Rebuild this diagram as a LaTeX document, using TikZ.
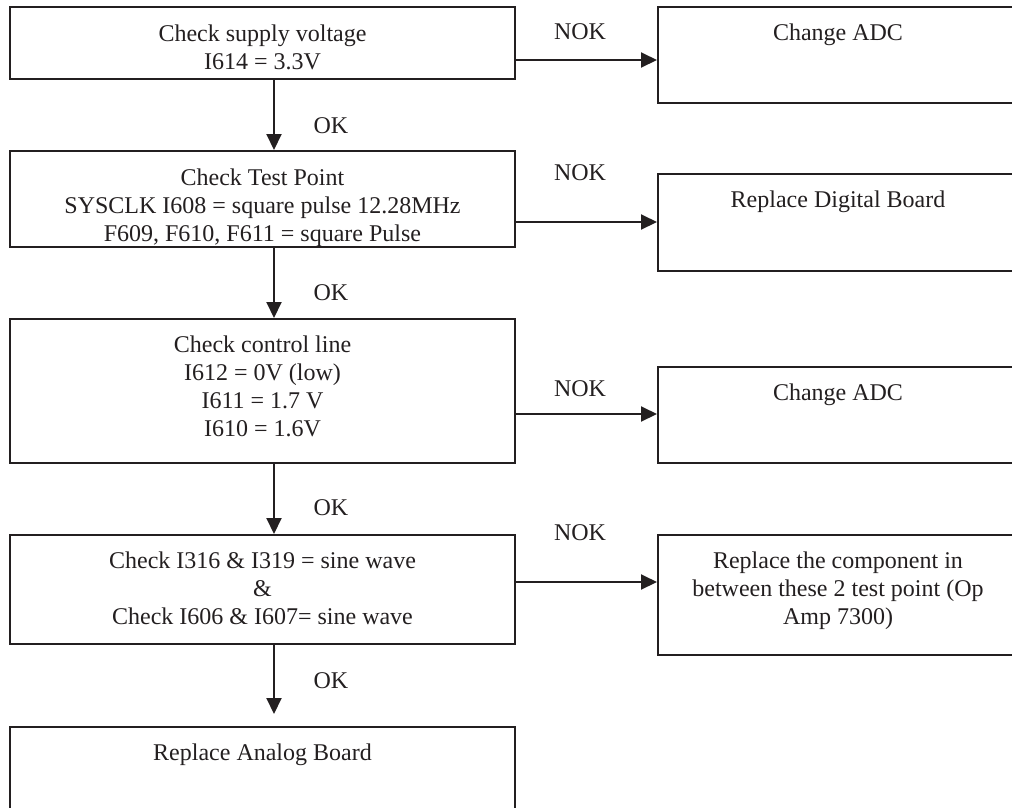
\documentclass[tikz,border=0pt]{standalone}
\usepackage{fontspec}
\setmainfont{Liberation Serif}
\usetikzlibrary{arrows.meta}
\definecolor{ink}{RGB}{35,31,32}
\begin{document}
\begin{tikzpicture}[x=1pt,y=-1pt,
  box/.style={draw=ink, line width=2pt, rectangle, inner sep=0pt, anchor=north west},
  txt/.style={anchor=north, inner sep=0pt, align=center, text=ink,
              font=\fontsize{24}{28}\selectfont},
  arr/.style={draw=ink, line width=2pt, -{Triangle[length=16pt,width=15pt]}},
  lbl/.style={inner sep=0pt, text=ink, font=\fontsize{24}{28}\selectfont}]
\useasboundingbox (0,0) rectangle (1012,807);
\clip (0,0) rectangle (1012,807);

% main column of checks
\node[box, minimum width=505pt, minimum height=72pt]  (b1) at (9,6) {};
\node[box, minimum width=505pt, minimum height=96pt]  (b2) at (9,150) {};
\node[box, minimum width=505pt, minimum height=144pt] (b3) at (9,318) {};
\node[box, minimum width=505pt, minimum height=109pt] (b4) at (9,534) {};
\node[box, minimum width=505pt, minimum height=120pt] (b5) at (9,726) {};

% actions on failure
\node[box, minimum width=360pt, minimum height=96pt]  (r1) at (657,6) {};
\node[box, minimum width=360pt, minimum height=97pt]  (r2) at (657,173) {};
\node[box, minimum width=360pt, minimum height=96pt]  (r3) at (657,366) {};
\node[box, minimum width=360pt, minimum height=120pt] (r4) at (657,534) {};

% box texts
\node[txt] (t1) at ([yshift=-18.5pt]b1.north) {Check supply voltage\\I614 = 3.3V};
\node[txt] (t2) at ([yshift=-18.5pt]b2.north) {Check Test Point\\SYSCLK I608 = square pulse 12.28MHz\\F609, F610, F611 = square Pulse};
\node[txt] (t3) at ([yshift=-17.5pt]b3.north) {Check control line\\I612 = 0V (low)\\I611 = 1.7 V\\I610 = 1.6V};
\node[txt] (t4) at ([yshift=-18pt]b4.north) {Check I316 \& I319 = sine wave\\\&\\Check I606 \& I607= sine wave};
\node[txt] (t5) at ([yshift=-18pt]b5.north) {Replace Analog Board};
\node[txt] (u1) at ([yshift=-18pt]r1.north) {Change ADC};
\node[txt] (u2) at ([yshift=-18pt]r2.north) {Replace Digital Board};
\node[txt] (u3) at ([yshift=-18pt]r3.north) {Change ADC};
\node[txt] (u4) at ([yshift=-18pt]r4.north) {Replace the component in\\between these 2 test point (Op\\Amp 7300)};

% connectors
\coordinate (ax) at (274,0);
\draw[arr] (b1.south -| ax) -- (b2.north -| ax);
\draw[arr] (b2.south -| ax) -- (b3.north -| ax);
\draw[arr] (b3.south -| ax) -- (b4.north -| ax);
\draw[arr, shorten >=12pt] (b4.south -| ax) -- (b5.north -| ax);

\coordinate (h1) at (0,60);
\coordinate (h2) at (0,222);
\coordinate (h3) at (0,414);
\coordinate (h4) at (0,582);
\draw[arr] (b1.east |- h1) -- (r1.west |- h1);
\draw[arr] (b2.east |- h2) -- (r2.west |- h2);
\draw[arr] (b3.east |- h3) -- (r3.west |- h3);
\draw[arr] (b4.east |- h4) -- (r4.west |- h4);

% branch labels
\node[lbl] (ok1) at (331,126) {OK};
\node[lbl] (ok2) at (331,293) {OK};
\node[lbl] (ok3) at (331,508) {OK};
\node[lbl] (ok4) at (331,681) {OK};
\node[lbl] (nok1) at (580,32) {NOK};
\node[lbl] (nok2) at (580,173) {NOK};
\node[lbl] (nok3) at (580,389) {NOK};
\node[lbl] (nok4) at (580,533) {NOK};
\end{tikzpicture}
\end{document}
